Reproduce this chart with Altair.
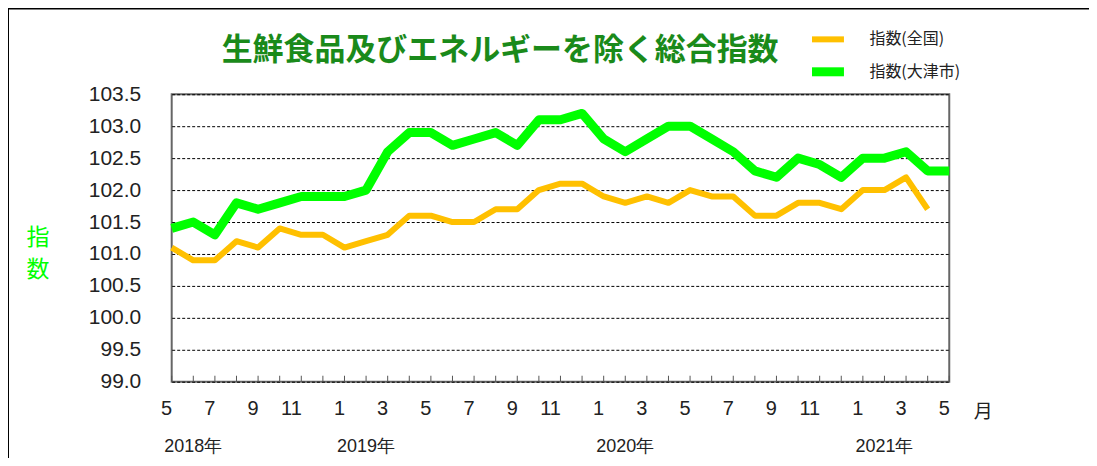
import altair as alt
import pandas as pd

# ---- data ----
months = [f"{y}-{m:02d}" for y in (2018, 2019, 2020, 2021) for m in range(1, 13)]
months = months[months.index("2018-05"):months.index("2021-05") + 1]

national = [101.1, 100.9, 100.9, 101.2, 101.1, 101.4, 101.3, 101.3,
            101.1, 101.2, 101.3, 101.6, 101.6, 101.5, 101.5, 101.7, 101.7, 102.0, 102.1, 102.1,
            101.9, 101.8, 101.9, 101.8, 102.0, 101.9, 101.9, 101.6, 101.6, 101.8, 101.8, 101.7,
            102.0, 102.0, 102.2, 101.7]
otsu = [101.4, 101.5, 101.3, 101.8, 101.7, 101.8, 101.9, 101.9,
        101.9, 102.0, 102.6, 102.9, 102.9, 102.7, 102.8, 102.9, 102.7, 103.1, 103.1, 103.2,
        102.8, 102.6, 102.8, 103.0, 103.0, 102.8, 102.6, 102.3, 102.2, 102.5, 102.4, 102.2,
        102.5, 102.5, 102.6, 102.3, 102.3]

series_names = ["指数(全国)", "指数(大津市)"]
series_colors = ["#FFC000", "#00FF00"]
series_widths = [6, 9]

y_ticks = [99.0, 99.5, 100.0, 100.5, 101.0, 101.5, 102.0, 102.5, 103.0, 103.5]
year_labels = ["2018年", "2019年", "2020年", "2021年"]
year_months = ["2018-06", "2019-02", "2020-02", "2021-02"]

title_text = "生鮮食品及びエネルギーを除く総合指数"

# ---- tables ----
rows = []
for m, v in zip(months, national):
    rows.append({"month": m, "series": series_names[0], "value": v})
for m, v in zip(months, otsu):
    rows.append({"month": m, "series": series_names[1], "value": v})
df = pd.DataFrame(rows)
df_months = pd.DataFrame({"month": months})
df_years = pd.DataFrame({"month": year_months, "label": year_labels})

W, H = 779, 288

x_scale = alt.Scale(type="point", padding=0, domain=months)
x_axis = alt.Axis(
    title=None, ticks=False, domain=False, grid=False, labelAngle=0,
    labelExpr="toNumber(slice(datum.value, 5)) % 2 == 1 ? toString(toNumber(slice(datum.value, 5))) : ''",
    labelFont="Liberation Sans", labelFontSize=20, labelColor="#222222",
    labelPadding=27, labelOverlap=False, labelFlush=False,
)
y_scale = alt.Scale(domain=[99.0, 103.5], nice=False, zero=False)
y_axis = alt.Axis(
    title=None, values=y_ticks, format=".1f", ticks=False, domain=False,
    grid=True, gridColor="#000000", gridDash=[3, 2], gridWidth=1,
    labelFont="Liberation Sans", labelFontSize=21, labelColor="#222222",
    labelPadding=31,
)

legend_cfg = dict(
    title=None, orient="none", legendX=637, legendY=-74,
    symbolType="stroke", symbolSize=1024,
    labelFont="Noto Sans CJK JP", labelFontSize=16, labelColor="#222222",
    labelOffset=21, rowPadding=-2,
)

lines = alt.Chart(df).mark_line(strokeCap="butt", strokeJoin="round").encode(
    x=alt.X("month:O", scale=x_scale, axis=x_axis, sort=months),
    y=alt.Y("value:Q", scale=y_scale, axis=y_axis),
    color=alt.Color(
        "series:N",
        scale=alt.Scale(domain=series_names, range=series_colors),
        legend=alt.Legend(**legend_cfg),
    ),
    strokeWidth=alt.StrokeWidth(
        "series:N",
        scale=alt.Scale(domain=series_names, range=series_widths),
        legend=alt.Legend(**legend_cfg),
    ),
    order=alt.Order("month:O"),
)

ticks = alt.Chart(df_months).mark_rule(color="#555555", strokeWidth=1).encode(
    x=alt.X("month:O", scale=x_scale, sort=months),
    y=alt.value(H),
    y2=alt.value(H - 6),
)

years = alt.Chart(df_years).mark_text(
    font="Liberation Sans", fontSize=18, color="#222222", baseline="middle"
).encode(
    x=alt.X("month:O", scale=x_scale, sort=months),
    y=alt.value(353),
    text="label:N",
)

month_unit = alt.Chart(df_months.head(1)).mark_text(
    text="月", font="Noto Sans CJK JP", fontSize=19, color="#222222", baseline="middle"
).encode(x=alt.value(813), y=alt.value(318))

ytitle1 = alt.Chart(df_months.head(1)).mark_text(
    text="指", font="Noto Sans CJK JP", fontSize=23, color="#00FF00", baseline="middle"
).encode(x=alt.value(-134), y=alt.value(144))
ytitle2 = alt.Chart(df_months.head(1)).mark_text(
    text="数", font="Noto Sans CJK JP", fontSize=23, color="#00FF00", baseline="middle"
).encode(x=alt.value(-134), y=alt.value(176))

title = alt.Chart(df_months.head(1)).mark_text(
    text=title_text, font="Noto Sans CJK JP", fontSize=31, fontWeight="bold",
    color="#1A8A1A", baseline="middle"
).encode(x=alt.value(329), y=alt.value(-43))

frame = alt.Chart(df_months.head(1)).mark_rect(
    fill=None, fillOpacity=0, stroke="#000000", strokeWidth=2
).encode(
    x=alt.value(-164), y=alt.value(-86), x2=alt.value(1100), y2=alt.value(600)
)

chart = alt.layer(
    frame, ticks, lines, years, month_unit, ytitle1, ytitle2, title
).properties(
    width=W, height=H,
    autosize=alt.AutoSizeParams(type="none"),
    padding={"left": 164, "top": 86, "right": 140, "bottom": 76},
    background="white",
).configure_view(
    stroke="#666666", strokeWidth=2
)

chart.save("out.html", embed_options={"renderer": "svg", "actions": False})
